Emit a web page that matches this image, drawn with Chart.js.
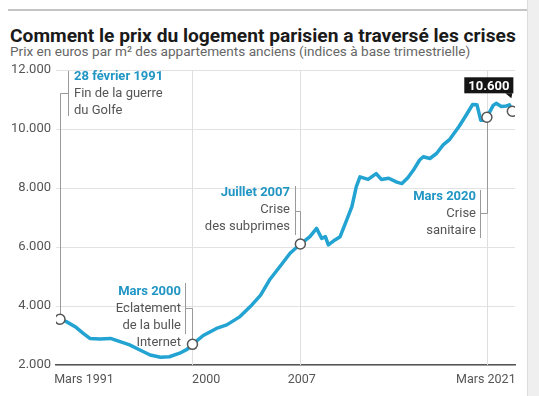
<!DOCTYPE html>
<html>
<head>
<meta charset="utf-8">
<script src="https://cdn.jsdelivr.net/npm/chart.js@4"></script>
<style>
  body { margin: 0; background: #fff; }
  #wrap { position: relative; width: 539px; height: 396px; overflow: hidden; }
  #topline { position: absolute; left: 8px; right: 10px; top: 9px; height: 2px; background: #c4c4c4; }
  #title { position: absolute; left: 10px; top: 24px; font: bold 19.2px Roboto, sans-serif; color: #1a1a1a; white-space: nowrap; }
  #subtitle { position: absolute; left: 10px; top: 43px; font: 13.6px Roboto, sans-serif; color: #666; white-space: nowrap; }
  #edge { position: absolute; right: 0; top: 0; width: 11px; height: 396px; background: #efefef; border-left: 1px solid #dcdcdc; }
  canvas { position: absolute; left: 0; top: 0; }
</style>
</head>
<body>
<div id="wrap">
  <div id="topline"></div>
  <div id="title">Comment le prix du logement parisien a traversé les crises</div>
  <div id="subtitle">Prix en euros par m² des appartements anciens (indices à base trimestrielle)</div>
  <div id="edge"></div>
  <canvas id="chart" width="539" height="396"></canvas>
</div>
<script>
// Prix moyen au m² (années décimales, lecture du graphique)
const years = [1991.17, 1991.6, 1992.2, 1992.75, 1993.2, 1993.9, 1994.6, 1995.25, 1995.9, 1996.6,
  1997.3, 1998.0, 1998.6, 1999.3, 1999.8, 2000.17, 2000.9, 2001.8, 2002.5, 2003.4,
  2004.1, 2004.8, 2005.4, 2006.1, 2006.8, 2007.5, 2008.15, 2008.6, 2008.95, 2009.2,
  2009.4, 2009.85, 2010.2, 2010.65, 2011.0, 2011.3, 2011.55, 2012.1, 2012.65, 2013.0,
  2013.5, 2014.05, 2014.4, 2014.8, 2015.17, 2015.6, 2015.85, 2016.3, 2016.75, 2017.2,
  2017.65, 2018.3, 2018.8, 2019.2, 2019.5, 2019.75, 2020.05, 2020.17, 2020.6, 2020.8,
  2021.15, 2021.5, 2021.7, 2021.9];
const prices = [3550, 3470, 3300, 3070, 2900, 2880, 2900, 2790, 2680, 2510,
  2340, 2260, 2280, 2400, 2530, 2700, 3000, 3240, 3360, 3640,
  3980, 4370, 4880, 5330, 5790, 6100, 6350, 6630, 6290, 6350,
  6070, 6240, 6350, 6920, 7370, 8050, 8380, 8290, 8490, 8290,
  8330, 8200, 8150, 8350, 8600, 8950, 9060, 9000, 9170, 9460,
  9650, 10100, 10500, 10830, 10820, 10300, 10300, 10400, 10800, 10870,
  10760, 10780, 10820, 10600];

// Événements marqués
const eventYears = [1991.17, 2000.17, 2007.5, 2020.17];
const eventPrices = [3550, 2700, 6100, 10400];
const eventTitles = ["28 février 1991", "Mars 2000", "Juillet 2007", "Mars 2020"];
const eventTexts = [["Fin de la guerre", "du Golfe"], ["Eclatement", "de la bulle", "Internet"], ["Crise", "des subprimes"], ["Crise", "sanitaire"]];

const lastYear = 2021.9;
const lastPrice = 10600;
const lastLabel = "10.600";

// Axe X : positions des libellés
const xTickPos = [1992.8, 2001.1, 2007.6, 2020.1];
const xTickLabels = ["Mars 1991", "2000", "2007", "Mars 2021"];
const gridYears = [2000.17, 2007.5, 2020.17];

const TEAL = '#22a3d2';
const TEAL_TXT = '#2196c4';

function fmt(v) {
  return String(v).replace(/\B(?=(\d{3})+(?!\d))/g, '.');
}

// Lignes verticales + connecteurs + textes
const annotations = {
  id: 'annotations',
  beforeDatasetsDraw(chart) {
    const { ctx, chartArea, scales: { x, y } } = chart;
    ctx.save();
    ctx.strokeStyle = '#dedede';
    ctx.lineWidth = 1;
    gridYears.forEach(g => {
      const px = Math.round(x.getPixelForValue(g)) + 0.5;
      ctx.beginPath();
      ctx.moveTo(px, chartArea.top);
      ctx.lineTo(px, chartArea.bottom);
      ctx.stroke();
    });

    ctx.strokeStyle = '#9a9a9a';
    // crochet : x, haut, bas, coude
    const brk = [
      { bx: 68, top: 71, bot: 116, ey: 93 },
      { bx: 185, top: 283, bot: 334, ey: 308 },
      { bx: 295, top: 186, bot: 235, ey: 211 },
      { bx: 480, top: 190, bot: 238, ey: 213 }
    ];
    eventYears.forEach((ev, i) => {
      const px = Math.round(x.getPixelForValue(ev)) + 0.5;
      const py = y.getPixelForValue(eventPrices[i]);
      const b = brk[i];
      ctx.beginPath();
      ctx.moveTo(b.bx + 0.5, b.top);
      ctx.lineTo(b.bx + 0.5, b.bot);
      ctx.moveTo(b.bx + 0.5, b.ey + 0.5);
      ctx.lineTo(px, b.ey + 0.5);
      ctx.moveTo(px, b.ey + 0.5);
      ctx.lineTo(px, py);
      ctx.stroke();
    });
    ctx.restore();
  },
  afterDraw(chart) {
    const { ctx, scales: { x, y } } = chart;
    ctx.save();
    const pos = [
      { tx: 74, ty: 77, align: 'left' },
      { tx: 181, ty: 292, align: 'right' },
      { tx: 290, ty: 193, align: 'right' },
      { tx: 476, ty: 197, align: 'right' }
    ];
    ctx.textBaseline = 'middle';
    eventTitles.forEach((t, i) => {
      const p = pos[i];
      ctx.textAlign = p.align;
      ctx.fillStyle = TEAL_TXT;
      ctx.font = 'bold 13px Roboto, sans-serif';
      ctx.fillText(t, p.tx, p.ty);
      ctx.fillStyle = '#555';
      ctx.font = '13px Roboto, sans-serif';
      eventTexts[i].forEach((line, j) => ctx.fillText(line, p.tx, p.ty + 17 * (j + 1)));
    });

    // étiquette de la dernière valeur
    const lx = x.getPixelForValue(lastYear);
    const ly = y.getPixelForValue(lastPrice);
    ctx.font = 'bold 13px Roboto, sans-serif';
    const w = ctx.measureText(lastLabel).width + 8;
    const bx = lx - w + 1, by = ly - 34, bh = 16;
    ctx.fillStyle = '#151515';
    ctx.fillRect(bx, by, w, bh);
    ctx.beginPath();
    ctx.moveTo(lx - 7, by + bh);
    ctx.lineTo(lx, by + bh);
    ctx.lineTo(lx - 1, by + bh + 5);
    ctx.closePath();
    ctx.fill();
    ctx.fillStyle = '#fff';
    ctx.textAlign = 'center';
    ctx.fillText(lastLabel, bx + w / 2, by + bh / 2 + 1);
    ctx.restore();
  }
};

const markerX = eventYears.concat([lastYear]);
const markerY = eventPrices.concat([lastPrice]);

new Chart(document.getElementById('chart'), {
  type: 'line',
  data: {
    datasets: [
      {
        data: years.map((yr, i) => ({ x: yr, y: prices[i] })),
        borderColor: TEAL,
        borderWidth: 3.5,
        pointRadius: 0,
        tension: 0,
        borderJoinStyle: 'round',
        order: 2
      },
      {
        data: markerX.map((yr, i) => ({ x: yr, y: markerY[i] })),
        showLine: false,
        pointRadius: 5,
        pointBackgroundColor: '#fff',
        pointBorderColor: '#555',
        pointBorderWidth: 1.5,
        order: 1
      }
    ]
  },
  options: {
    responsive: false,
    animation: false,
    devicePixelRatio: 1,
    layout: { padding: { top: 70, right: 24, left: 0, bottom: 0 } },
    plugins: { legend: { display: false }, tooltip: { enabled: false } },
    scales: {
      x: {
        type: 'linear',
        min: 1990.9,
        max: 2022.08,
        afterBuildTicks(scale) {
          scale.ticks = xTickPos.map(v => ({ value: v }));
        },
        afterFit(scale) { scale.height = 31; },
        grid: { display: false, drawTicks: false },
        border: { display: true, color: '#555', width: 1.5 },
        ticks: {
          autoSkip: false,
          maxRotation: 0,
          padding: 7,
          color: '#555',
          font: { family: 'Roboto', size: 12.5 },
          callback: (v, i) => xTickLabels[i]
        }
      },
      y: {
        min: 2000,
        max: 12000,
        afterFit(scale) { scale.width = 56; },
        grid: { color: '#e2e2e2', lineWidth: 1, drawTicks: false },
        border: { display: false },
        ticks: {
          stepSize: 2000,
          padding: 5,
          color: '#555',
          font: { family: 'Roboto', size: 13 },
          callback: v => fmt(v)
        }
      }
    }
  },
  plugins: [annotations]
});
</script>
</body>
</html>
